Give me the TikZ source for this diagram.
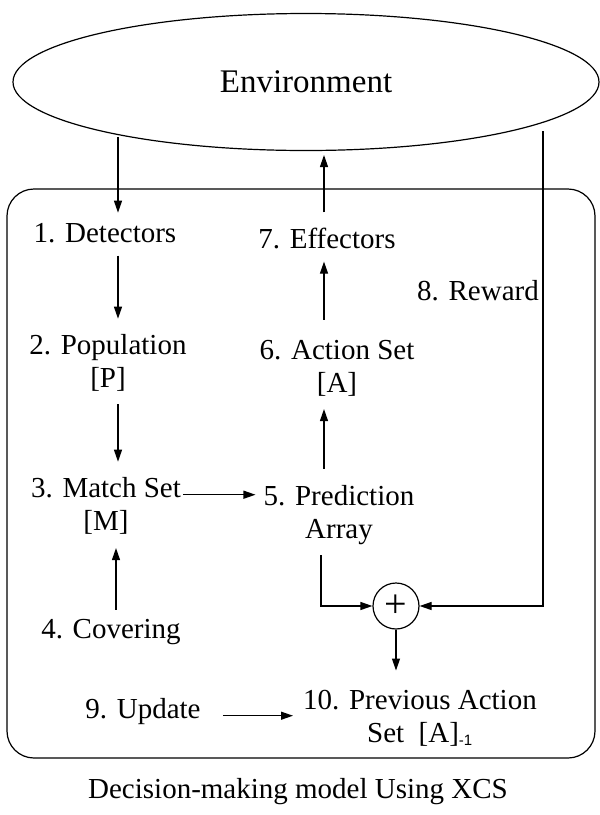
\documentclass[tikz,border=0pt]{standalone}
\usepackage{fontspec}
\setmainfont{Liberation Serif}
\newfontfamily\subfont{Liberation Sans}
\usetikzlibrary{shapes.geometric}
\usetikzlibrary{arrows.meta}

\tikzset{
   lbl/.style={align=center, anchor=base, inner sep=0pt,
      font=\fontsize{29}{33}\selectfont},
   wire/.style={line width=1.2pt},
   flow/.style={wire, -{Triangle[length=12pt,width=8pt]}},
   gap/.style={shorten <=13pt, shorten >=15pt}
}

\begin{document}
\begin{tikzpicture}[x=1pt,y=-1pt]
   \useasboundingbox (0,0) rectangle (600,815);

   \node[name=env, draw, ellipse, wire, minimum width=586pt, minimum height=137pt,
      font=\fontsize{33}{38}\selectfont] at (306,82) {Environment};

   % the agent
   \draw[wire, rounded corners=27pt] (7,189) rectangle (595,758);

   \coordinate (envL) at (118,137);
   \coordinate (envM) at (324,155);
   \coordinate (envR) at (543,131);

   % base = last line of each label
   \node[lbl] (det) at (105,242) {1. Detectors};
   \node[lbl] (pop) at (108,387) {2. Population\\{[P]}};
   \node[lbl] (match) at (106,530) {3. Match Set\\{[M]}};
   \node[lbl] (cov) at (111,638) {4. Covering};
   \node[lbl] (pred) at (339,538) {5. Prediction\\Array};
   \node[lbl] (act) at (337,392) {6. Action Set\\{[A]}};
   \node[lbl] (eff) at (327,248) {7. Effectors};
   \node[lbl] (rew) at (478,300) {8. Reward};
   \node[lbl] (upd) at (143,718) {9. Update};
   \node[lbl] (prev) at (420,742)
      {10. Previous Action\\Set\ \ [A]\textsubscript{\subfont\fontsize{15}{15}\selectfont -1}};

   \node[name=plus, draw, circle, wire, minimum size=46pt, inner sep=0pt,
      font=\fontsize{40}{40}\selectfont] at (396,606) {+};

   \node[lbl] (cap) at (298,798) {Decision-making model Using XCS};

   \draw[flow, shorten >=10pt] (envL) -- (envL |- det.north);
   \draw[flow, gap] (envL |- det.south) -- (envL |- pop.north);
   \draw[flow, gap] (envL |- pop.south) -- (envL |- match.north);
   \draw[flow, shorten <=9pt, shorten >=14pt] ([xshift=-2pt]envL |- cov.north) -- ([xshift=-2pt]envL |- match.south);
   \draw[flow, shorten <=2pt, shorten >=8pt] ([yshift=33pt]match.mid east) -- ([yshift=33pt]match.mid east -| pred.west);
   \draw[flow, shorten <=16pt, shorten >=13pt] (envM |- pred.north) -- (envM |- act.south);
   \draw[flow, shorten <=20pt, shorten >=13pt] (envM |- act.north) -- (envM |- eff.south);
   \draw[flow, shorten <=15pt] (envM |- eff.north) -- (envM);
   \draw[flow, shorten <=11pt] ([xshift=-3pt]envM |- pred.south) |- (plus);
   \draw[flow] (envR) |- (plus);
   \draw[flow, shorten >=19pt] (plus) -- (plus |- prev.north);
   \draw[flow, shorten <=22pt, shorten >=10pt] (upd.mid east) -- (upd.mid east -| prev.west);
\end{tikzpicture}
\end{document}
